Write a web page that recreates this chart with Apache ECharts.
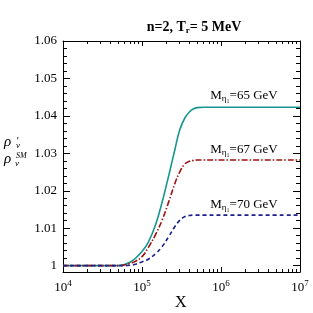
<!DOCTYPE html>
<html><head><meta charset="utf-8">
<script src="https://cdn.jsdelivr.net/npm/echarts@6/dist/echarts.min.js"></script>
<style>html,body{margin:0;padding:0;background:#fff}#c{width:313px;height:313px}</style>
</head><body><div id="c"></div>
<script>
// ---- data ----
const xValues = [1e4, 3e4, 5e4, 6e4, 7e4, 8e4, 1e5, 1.2e5, 1.5e5, 1.8e5, 2.2e5, 2.6e5, 3e5, 3.5e5, 4e5, 4.5e5, 5e5, 6e5, 1e6, 1e7];
const m65 = [1, 1, 1.0000, 1.0003, 1.0009, 1.0017, 1.0038, 1.0062, 1.0112, 1.0170, 1.0244, 1.0309, 1.0362, 1.0395, 1.0411, 1.0419, 1.0422, 1.0423, 1.0423, 1.0423];
const m67 = [1, 1, 1.0000, 1.0002, 1.0006, 1.0010, 1.0024, 1.0048, 1.0085, 1.0122, 1.0173, 1.0219, 1.0250, 1.0272, 1.0279, 1.0281, 1.0282, 1.0282, 1.0282, 1.0282];
const m70 = [1, 1, 1.0000, 1.0000, 1.0001, 1.0003, 1.0010, 1.0017, 1.0033, 1.0051, 1.0079, 1.0104, 1.0121, 1.0131, 1.0134, 1.0135, 1.0135, 1.0135, 1.0135, 1.0135];
const seriesMasses = ['65', '67', '70'];
const labelAnchors = [[1.95e6, 1.0453], [1.95e6, 1.0309], [1.95e6, 1.0162]];
const xMajorTicks = [1e4, 1e5, 1e6, 1e7];
const xMinorTicks = [];
[1e4, 1e5, 1e6].forEach(d => { for (let k = 2; k <= 9; k++) xMinorTicks.push(k * d); });
const yMajorTicks = [1, 1.01, 1.02, 1.03, 1.04, 1.05, 1.06];
const yMinorTicks = [];
for (let i = 0; i < 6; i++) for (let k = 1; k <= 4; k++) yMinorTicks.push(+(1 + i * 0.01 + k * 0.002).toFixed(4));

const FONT = 'Liberation Serif';
const chart = echarts.init(document.getElementById('c'), null, {renderer: 'canvas'});
const axLine = {show: true, lineStyle: {color: '#000', width: 1}};
const noLine = {show: false};
function xAx(pos, ticks, len, labels, line) {
  return {
    type: 'log', logBase: 10, min: 1e4, max: 1e7, position: pos, gridIndex: 0,
    axisLine: line ? axLine : noLine,
    axisTick: {show: true, inside: true, length: len, customValues: ticks, lineStyle: {color: '#000', width: 1}},
    axisLabel: labels ? {
      show: true, customValues: xMajorTicks, margin: 7,
      formatter: v => '{b|10}{s|' + Math.round(Math.log10(v)) + '}',
      rich: {b: {fontFamily: FONT, fontSize: 13, color: '#000'}, s: {fontFamily: FONT, fontSize: 9, color: '#000', padding: [0, 0, 8, 0]}}
    } : {show: false},
    splitLine: {show: false}, minorTick: {show: false}
  };
}
function yAx(pos, ticks, len, labels, line) {
  return {
    type: 'value', min: 0.9983, max: 1.06, position: pos, gridIndex: 0,
    axisLine: line ? axLine : noLine,
    axisTick: {show: true, inside: true, length: len, customValues: ticks, lineStyle: {color: '#000', width: 1}},
    axisLabel: labels ? {
      show: true, customValues: yMajorTicks, margin: 6, fontFamily: FONT, fontSize: 13, color: '#000',
      formatter: v => (Math.abs(v - 1) < 1e-9 ? '1' : v.toFixed(2))
    } : {show: false},
    splitLine: {show: false}
  };
}
const colors = ['#17968f', '#a0100f', '#1c1f8f'];
const dashes = ['solid', [6, 2, 1.5, 2], [4, 3]];
const vals = [m65, m67, m70];
const series = vals.map((arr, i) => ({
  type: 'line', xAxisIndex: 0, yAxisIndex: 0, showSymbol: false, smooth: 0.4,
  data: xValues.map((x, j) => [x, arr[j]]),
  lineStyle: {color: colors[i], width: 1.6, type: dashes[i]},
  markPoint: {
    symbol: 'circle', symbolSize: 0, silent: true,
    data: [{coord: labelAnchors[i]}],
    label: {
      show: true, position: 'inside',
      formatter: '{a|M}{s|η₁}{a|=' + seriesMasses[i] + ' GeV}',
      rich: {a: {fontFamily: FONT, fontSize: 13, color: '#000'}, s: {fontFamily: FONT, fontSize: 9, color: '#000', padding: [6, 0, 0, 0]}}
    }
  }
}));
const it = (t, x, y, size) => ({type: 'text', left: x, top: y, style: {text: t, fontFamily: FONT, fontSize: size, fontStyle: 'italic', fill: '#000'}});
chart.setOption({
  animation: false,
  backgroundColor: '#fff',
  title: {
    text: '{t|n=2, T}{s|r}{t|= 5 MeV}', left: 189, top: 15, textAlign: 'center',
    textStyle: {rich: {t: {fontFamily: FONT, fontSize: 14, fontWeight: 'bold', color: '#000'}, s: {fontFamily: FONT, fontSize: 9, fontWeight: 'bold', color: '#000', padding: [6, 0, 0, 0]}}}
  },
  grid: {left: 63, right: 13, top: 41, bottom: 41, containLabel: false},
  xAxis: [
    xAx('bottom', xMajorTicks, 5, true, true),
    xAx('bottom', xMinorTicks, 3, false, false),
    xAx('top', xMajorTicks, 5, false, true),
    xAx('top', xMinorTicks, 3, false, false)
  ],
  yAxis: [
    yAx('left', yMajorTicks, 7, true, true),
    yAx('left', yMinorTicks, 4, false, false),
    yAx('right', yMajorTicks, 7, false, true),
    yAx('right', yMinorTicks, 4, false, false)
  ],
  graphic: [
    {type: 'text', left: 175, top: 295, style: {text: 'X', fontFamily: FONT, fontSize: 16, fill: '#000'}},
    it('ρ', 4, 135, 15),
    it('′', 16, 136, 11),
    it('ν', 16, 141, 9),
    it('ρ', 4, 152, 15),
    it('ν', 15, 159, 9),
    it('SM', 16, 152, 8)
  ],
  series: series
});
</script></body></html>
